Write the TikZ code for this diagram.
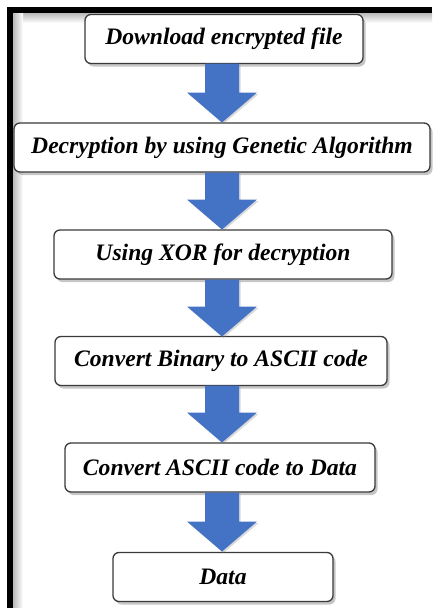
\documentclass[tikz,border=0pt]{standalone}
\usepackage{fontspec}
\setmainfont{Liberation Serif}
\usetikzlibrary{calc,shadows}

\definecolor{arrowblue}{HTML}{4472C4}
\definecolor{boxline}{HTML}{3A3A3A}

\tikzset{
  stepbox/.style={draw=boxline, line width=1.3pt, rounded corners=6pt, fill=white,
    minimum height=49pt, inner sep=0pt,
    font=\fontsize{23.6}{25}\selectfont\bfseries\itshape,
    drop shadow={shadow xshift=2.5pt, shadow yshift=-3pt, opacity=0.45, fill=gray}},
  flowfill/.style={fill=arrowblue,
    drop shadow={shadow xshift=1.5pt, shadow yshift=-1.5pt, opacity=0.3, fill=gray}}
}

% block arrow from the bottom of one box to the top of the next
\newcommand{\flowarrow}[2]{%
  \path (#1.south) coordinate (fa-s) (#2.north) coordinate (fa-e);
  \fill[flowfill] ($(fa-s)+(-17,0)$) -- ($(fa-s)+(17,0)$) -- ($(fa-e)+(17,-30)$)
    -- ($(fa-e)+(35,-30)$) -- (fa-e) -- ($(fa-e)+(-35,-30)$) -- ($(fa-e)+(-17,-30)$) -- cycle;
}

\begin{document}
\begin{tikzpicture}[x=1pt,y=-1pt]
  \useasboundingbox (0,0) rectangle (432,608);

  % frame with inner shading
  \shade[top color=gray!55, bottom color=white] (13,13) rectangle (432,23);
  \shade[left color=gray!55, right color=white] (13,13) rectangle (23,608);
  \fill[black] (7,7) rectangle (432,13);
  \fill[black] (7,7) rectangle (13,608);

  % process steps
  \node[stepbox, minimum width=278pt] (download) at (224,39) {Download encrypted file};
  \node[stepbox, minimum width=416pt] (genetic) at (222,147.5) {Decryption by using Genetic Algorithm};
  \node[stepbox, minimum width=338pt] (xor) at (223,254.5) {Using XOR for decryption};
  \node[stepbox, minimum width=332pt] (binascii) at (221,361) {Convert Binary to ASCII code};
  \node[stepbox, minimum width=310pt] (asciidata) at (220,467.5) {Convert ASCII code to Data};
  \node[stepbox, minimum width=220pt] (data) at (223,577) {Data};

  % connectors
  \coordinate (c1) at (222,63.5);   \coordinate (c1e) at (222,122.5);
  \coordinate (c2) at (222,172.5);  \coordinate (c2e) at (222,229.5);
  \coordinate (c3) at (222,279.5);  \coordinate (c3e) at (222,336.5);
  \coordinate (c4) at (222,385.5);  \coordinate (c4e) at (222,442.5);
  \coordinate (c5) at (222,492.5);  \coordinate (c5e) at (222,551.5);
  \flowarrow{c1}{c1e}
  \flowarrow{c2}{c2e}
  \flowarrow{c3}{c3e}
  \flowarrow{c4}{c4e}
  \flowarrow{c5}{c5e}
\end{tikzpicture}
\end{document}
